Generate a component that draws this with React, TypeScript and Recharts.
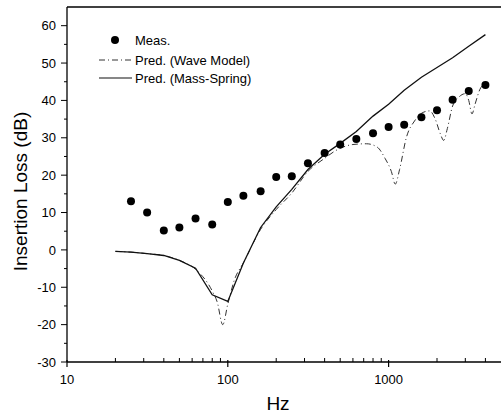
import React from 'react';
import { ComposedChart, Line, Scatter, XAxis, YAxis, Legend, ReferenceLine, Label } from 'recharts';

// Measured insertion loss (1/3-octave bands)
const measFreq = [25, 31.5, 40, 50, 63, 80, 100, 125, 160, 200, 250, 315, 400, 500, 630, 800, 1000, 1250, 1600, 2000, 2500, 3150, 4000];
const measValues = [13, 10, 5.2, 6.0, 8.4, 6.8, 12.8, 14.5, 15.7, 19.5, 19.7, 23.2, 25.9, 28.2, 29.7, 31.2, 32.9, 33.5, 35.5, 37.4, 40.2, 42.5, 44.1];

// Mass-spring prediction
const massFreq = [20, 25, 31.5, 40, 50, 63, 80, 100, 125, 160, 200, 250, 315, 400, 500, 630, 800, 1000, 1250, 1600, 2000, 2500, 3150, 4000];
const massValues = [-0.4, -0.6, -1.0, -1.5, -2.8, -4.9, -12, -13.8, -3.5, 6.0, 11.5, 16.2, 21.5, 25.6, 28.5, 31.7, 35.8, 39.0, 42.7, 46.2, 48.8, 51.4, 54.5, 57.6];

// Wave model prediction
const waveFreq = [20, 25, 31.5, 40, 50, 63, 80, 86, 93, 100, 110, 125, 160, 200, 250, 315, 400, 470, 600, 730, 850, 950, 1040, 1100, 1170, 1290, 1450, 1640, 1800, 1950, 2100, 2200, 2320, 2500, 2750, 3000, 3150, 3300, 3450, 3700, 4000];
const waveValues = [-0.4, -0.6, -1.0, -1.5, -2.8, -5.2, -11, -14, -20, -14.5, -8, -3.5, 5.5, 10.8, 15.2, 21.0, 24.5, 26.6, 28.2, 28.4, 27.5, 24.5, 21.0, 17.6, 21.5, 30.1, 34.5, 36.8, 37.2, 35.0, 31.0, 29.3, 32.5, 38.5, 41.0, 41.8, 40.0, 36.4, 39.0, 43.0, 44.5];

const xTicks = [10, 20, 30, 40, 50, 60, 70, 80, 90, 100, 200, 300, 400, 500, 600, 700, 800, 900, 1000, 2000, 3000, 4000];
const xLabels = [10, 100, 1000];
const yTicks = [-30, -25, -20, -15, -10, -5, 0, 5, 10, 15, 20, 25, 30, 35, 40, 45, 50, 55, 60];

const meas = measFreq.map((f, i) => ({ f, v: measValues[i] }));
const mass = massFreq.map((f, i) => ({ f, v: massValues[i] }));
const wave = waveFreq.map((f, i) => ({ f, v: waveValues[i] }));

const FONT = '"Liberation Sans", Arial, sans-serif';

const XTick = (props: any) => {
  const { x, y, payload } = props;
  const major = xLabels.includes(payload.value);
  return (
    <g>
      {major ? (
        <line x1={x} x2={x} y1={y - 2} y2={y + 5} stroke="#000" strokeWidth={1.2} />
      ) : (
        <line x1={x} x2={x} y1={y - 4} y2={y} stroke="#000" strokeWidth={1} />
      )}
      {major && (
        <text x={x} y={y + 22} textAnchor="middle" fontFamily={FONT} fontSize={13} fill="#000">
          {payload.value}
        </text>
      )}
    </g>
  );
};

const YTick = (props: any) => {
  const { x, y, payload } = props;
  const major = payload.value % 10 === 0;
  return (
    <g>
      <line x1={x - (major ? 6 : 3)} x2={x} y1={y} y2={y} stroke="#000" strokeWidth={1} />
      {major && (
        <text x={x - 11} y={y} dy="0.36em" textAnchor="end" fontFamily={FONT} fontSize={13} fill="#000">
          {payload.value}
        </text>
      )}
    </g>
  );
};

const renderLegend = () => {
  const rowStyle: React.CSSProperties = { display: 'flex', alignItems: 'center', height: 18, fontFamily: FONT, fontSize: 13, color: '#000' };
  return (
    <div>
      <div style={rowStyle}>
        <svg width={38} height={18}><circle cx={20} cy={9} r={4} fill="#000" /></svg>
        <span style={{ marginLeft: 2 }}>Meas.</span>
      </div>
      <div style={{ ...rowStyle, marginTop: 2 }}>
        <svg width={38} height={18}><line x1={4} x2={37} y1={9} y2={9} stroke="#333" strokeWidth={1} strokeDasharray="6 3 1 3" /></svg>
        <span style={{ marginLeft: 2 }}>Pred. (Wave Model)</span>
      </div>
      <div style={rowStyle}>
        <svg width={38} height={18}><line x1={4} x2={37} y1={9} y2={9} stroke="#111" strokeWidth={1.2} /></svg>
        <span style={{ marginLeft: 2 }}>Pred. (Mass-Spring)</span>
      </div>
    </div>
  );
};

export default function App() {
  return (
    <div style={{ position: 'absolute', left: 0, top: 0, background: '#fff' }}>
      <ComposedChart width={501} height={414} margin={{ top: 7, right: 0, bottom: 0, left: 0 }}>
        <XAxis
          dataKey="f"
          type="number"
          scale="log"
          domain={[10, 5000]}
          ticks={xTicks}
          tick={<XTick />}
          tickLine={false}
          tickSize={0}
          tickMargin={0}
          interval={0}
          height={52}
          allowDataOverflow
          axisLine={{ stroke: '#000', strokeWidth: 1.3 }}
        >
          <Label
            content={(p: any) => {
              const vb = p.viewBox;
              return (
                <text x={vb.x + vb.width / 2 - 6} y={vb.y + 48} textAnchor="middle" fontFamily={FONT} fontSize={19} fill="#000">
                  Hz
                </text>
              );
            }}
          />
        </XAxis>
        <YAxis
          type="number"
          domain={[-30, 65]}
          ticks={yTicks}
          tick={<YTick />}
          tickLine={false}
          tickSize={0}
          tickMargin={0}
          interval={0}
          width={67}
          allowDataOverflow
          axisLine={{ stroke: '#000', strokeWidth: 1.3 }}
        >
          <Label
            content={(p: any) => {
              const vb = p.viewBox;
              const cx = 20;
              const cy = vb.y + vb.height / 2 + 7;
              return (
                <text x={cx} y={cy} transform={`rotate(-90 ${cx} ${cy})`} textAnchor="middle" dominantBaseline="central" fontFamily={FONT} fontSize={19} fill="#000">
                  Insertion Loss (dB)
                </text>
              );
            }}
          />
        </YAxis>
        <ReferenceLine y={65} stroke="#000" strokeWidth={1.3} />
        <Legend
          content={renderLegend}
          layout="vertical"
          align="center"
          verticalAlign="middle"
          wrapperStyle={{ position: 'absolute', left: 95, top: 31, width: 200 }}
        />
        <Line data={wave} dataKey="v" type="monotone" stroke="#333" strokeWidth={1} strokeDasharray="6 3 1 3" dot={false} isAnimationActive={false} legendType="none" />
        <Line data={mass} dataKey="v" type="linear" stroke="#111" strokeWidth={1.3} dot={false} isAnimationActive={false} legendType="none" />
        <Scatter data={meas} dataKey="v" fill="#000" isAnimationActive={false} legendType="none"
          shape={(p: any) => <circle cx={p.cx} cy={p.cy} r={4} fill="#000" />} />
      </ComposedChart>
    </div>
  );
}
